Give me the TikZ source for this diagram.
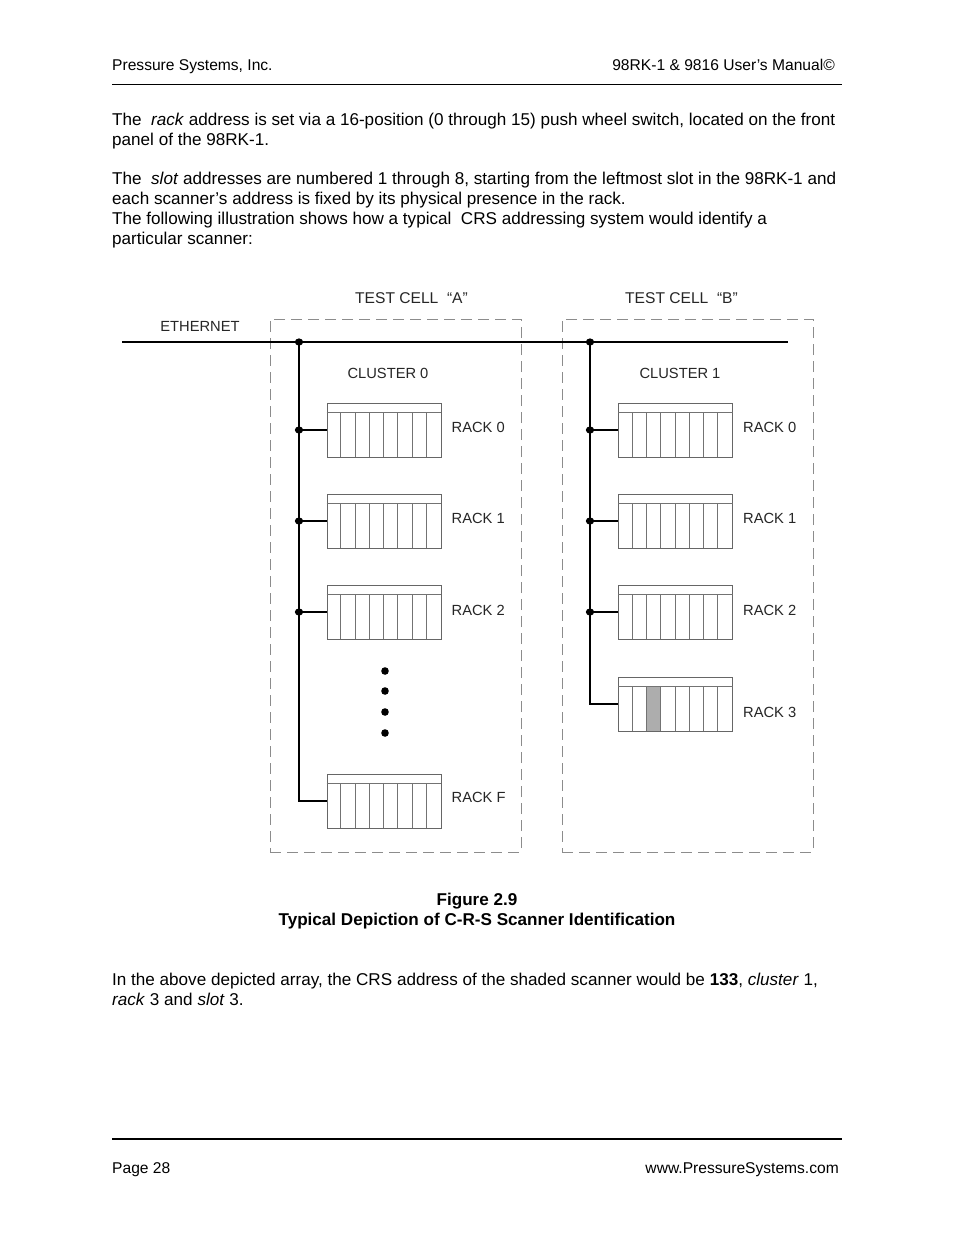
\documentclass[tikz,border=0pt]{standalone}
\usepackage{fontspec}
\setmainfont{Liberation Sans}
\usetikzlibrary{calc}
\tikzset{
  body/.style={inner sep=0pt, anchor=base west, font=\fontsize{17.1}{20}\selectfont},
  small/.style={inner sep=0pt, font=\fontsize{15.6}{18}\selectfont},
  lab/.style={inner sep=0pt, text=black!85, font=\fontsize{14.7}{17}\selectfont},
  cellbox/.style={draw=black!45, line width=1pt, dash pattern=on 11pt off 6pt, minimum width=251pt, minimum height=533pt, inner sep=0pt},
  rackbox/.style={draw=black!60, line width=0.9pt, minimum width=114pt, minimum height=54pt, inner sep=0pt},
  slotline/.style={draw=black!55, line width=0.7pt},
  wire/.style={line width=1.8pt, black},
  joint/.style={fill=black},
}
\newcommand\drawrack[3]{% name, x, y
  \node[rackbox] (#1) at (#2,#3) {};
  \draw[slotline] ([yshift=-10pt]#1.north west) -- ([yshift=-10pt]#1.north east);
  \foreach \k in {1,...,7}
    \draw[slotline] ([xshift=\k*14.25pt]#1.south west) -- ([xshift=\k*14.25pt,yshift=-10pt]#1.north west);
}
\begin{document}
\begin{tikzpicture}[x=1pt,y=-1pt]
\useasboundingbox[fill=white] (0,0) rectangle (954,1235);

% header
\node[small, anchor=base west] (hl) at (112,70.5) {Pressure Systems, Inc.};
\node[small, anchor=base east] (hr) at (835,70.5) {98RK-1 \& 9816 User’s Manual©};
\coordinate (hrl) at (112,84);
\coordinate (hrr) at (842,84);
\draw[line width=1pt] (hrl) -- (hrr);

% body text
\node[body] (p1) at (112,125) {The \ \textit{rack} address is set via a 16-position (0 through 15) push wheel switch, located on the front};
\node[body] (p2) at (112,145) {panel of the 98RK-1.};
\node[body] (p3) at (112,184) {The \ \textit{slot} addresses are numbered 1 through 8, starting from the leftmost slot in the 98RK-1 and};
\node[body] (p4) at (112,204) {each scanner’s address is fixed by its physical presence in the rack.};
\node[body] (p5) at (112,224) {The following illustration shows how a typical \ CRS addressing system would identify a};
\node[body] (p6) at (112,244) {particular scanner:};

% diagram labels
\node[lab, anchor=base, font=\fontsize{15.6}{18}\selectfont] (tca) at (411.5,303.5) {TEST CELL \ “A”};
\node[lab, anchor=base, font=\fontsize{15.6}{18}\selectfont] (tcb) at (681.5,303.5) {TEST CELL \ “B”};
\node[lab, anchor=base] (eth) at (200,331) {ETHERNET};

% test cell boxes
\node[cellbox] (cellA) at (395.5,585.5) {};
\node[cellbox] (cellB) at (687.5,585.5) {};

\node[lab] (cl0) at (388,373) {CLUSTER 0};
\node[lab] (cl1) at (680,373) {CLUSTER 1};

% racks cluster 0
\drawrack{rA0}{384}{430}
\drawrack{rA1}{384}{521}
\drawrack{rA2}{384}{612}
\drawrack{rAF}{384}{801}
% racks cluster 1
\drawrack{rB0}{675.5}{430}
\drawrack{rB1}{675.5}{521}
\drawrack{rB2}{675.5}{612}
% shaded slot in rack 3 (drawn before grid)
\node[rackbox, draw=none] (rB3) at (675.5,704) {};
\fill[black!32] ([xshift=2*14.25pt,yshift=-10pt]rB3.north west) rectangle ([xshift=3*14.25pt]rB3.south west);
\drawrack{rB3}{675.5}{704}

% rack labels
\foreach \r/\t/\dy in {rA0/RACK 0/3, rA1/RACK 1/3, rA2/RACK 2/2, rAF/RACK F/4, rB0/RACK 0/3, rB1/RACK 1/3, rB2/RACK 2/2, rB3/RACK 3/-8}
  \node[lab, anchor=west] (lab\r) at ([xshift=10pt,yshift=\dy pt]\r.east) {\t};

% ethernet
\coordinate (ethL) at (122,342);
\coordinate (ethR) at (788,342);
\draw[wire] (ethL) -- (ethR);

% cluster 0 bus
\coordinate (aE) at (299,342);
\coordinate (a0) at (299,430);
\coordinate (a1) at (299,521);
\coordinate (a2) at (299,612);
\coordinate (aF) at (299,801);
\draw[wire] (aE) -- (aF) -- (rAF.west);
\draw[wire] (a0) -- (rA0.west);
\draw[wire] (a1) -- (rA1.west);
\draw[wire] (a2) -- (rA2.west);
\foreach \c in {aE,a0,a1,a2} \fill[joint] (\c) ellipse (4.2pt and 3.6pt);

% cluster 1 bus
\coordinate (bE) at (590,342);
\coordinate (b0) at (590,430);
\coordinate (b1) at (590,521);
\coordinate (b2) at (590,612);
\coordinate (b3) at (590,704);
\draw[wire] (bE) -- (b3) -- (rB3.west);
\draw[wire] (b0) -- (rB0.west);
\draw[wire] (b1) -- (rB1.west);
\draw[wire] (b2) -- (rB2.west);
\foreach \c in {bE,b0,b1,b2} \fill[joint] (\c) ellipse (4.2pt and 3.6pt);

% ellipsis dots
\foreach \yy [count=\i] in {671,691,712,733} \fill[joint] (385,\yy) circle (3.8pt) coordinate (dot\i);

% caption
\node[inner sep=0pt, anchor=base, font=\fontsize{17.1}{20}\selectfont\bfseries] (fig) at (477,905.5) {Figure 2.9};
\node[inner sep=0pt, anchor=base, font=\fontsize{17.1}{20}\selectfont\bfseries] (cap) at (477,925.5) {Typical Depiction of C-R-S Scanner Identification};

\node[body] (q1) at (112,985) {In the above depicted array, the CRS address of the shaded scanner would be \textbf{133}, \textit{cluster} 1,};
\node[body] (q2) at (112,1005) {\textit{rack} 3 and \textit{slot} 3.};

% footer
\coordinate (frl) at (112,1139);
\coordinate (frr) at (842,1139);
\draw[line width=2pt] (frl) -- (frr);
\node[small, anchor=base west] (fl) at (112,1173.5) {Page 28};
\node[small, anchor=base east] (fr) at (839,1173.5) {www.PressureSystems.com};
\end{tikzpicture}
\end{document}
